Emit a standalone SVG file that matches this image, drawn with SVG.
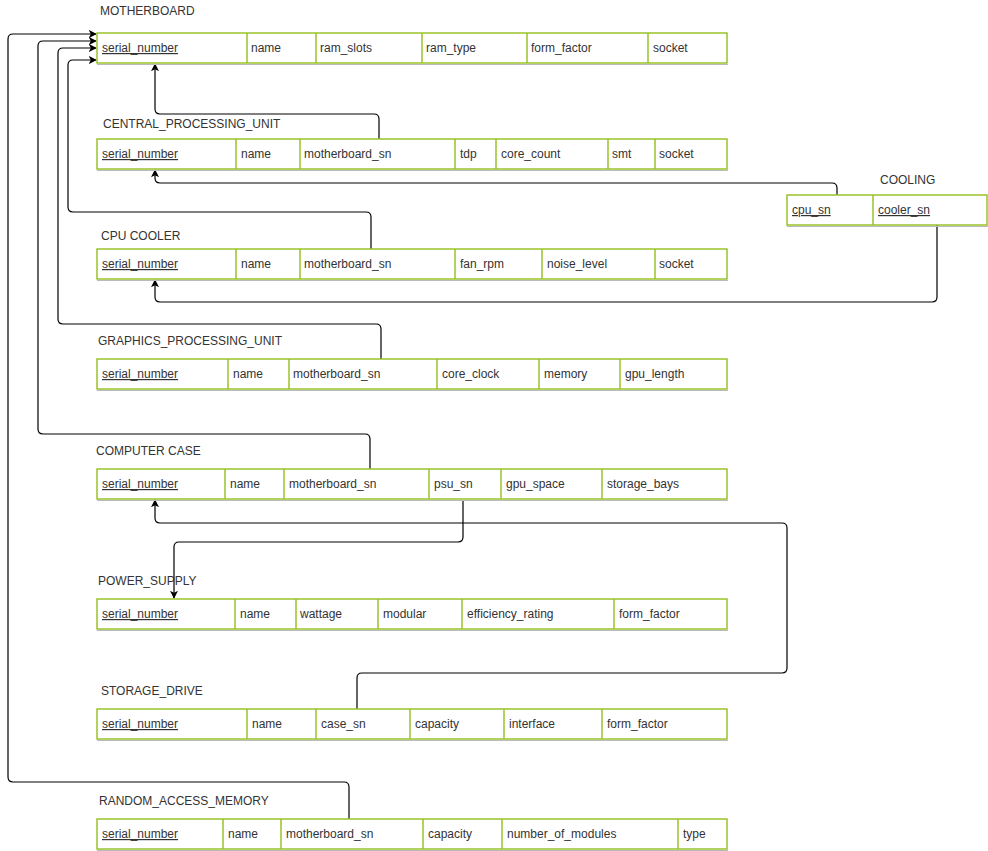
<svg xmlns="http://www.w3.org/2000/svg" width="988" height="851" viewBox="0 0 988 851">
<style>
text{font-family:"Liberation Sans",Arial,sans-serif;font-size:12px;fill:#333}
.pk{text-decoration:underline}
.tb{fill:#fff;stroke:#9AC22B;stroke-width:1.5}
.sh{fill:none;stroke:#bbb;stroke-width:1}
.dv{stroke:#9AC22B;stroke-width:1.5}
.cn{fill:none;stroke:#000;stroke-width:1.2}
</style>
<defs>
<marker id="ar" viewBox="0 0 10 10" refX="9" refY="5" markerWidth="8" markerHeight="8" markerUnits="userSpaceOnUse" orient="auto">
<path d="M0,0 L10,5 L0,10 L2.5,5 z" fill="#000"/>
</marker>
</defs>
<rect width="988" height="851" fill="#fff"/>

<g id="connectors">
<path class="cn" marker-end="url(#ar)" d="M379,139 V119 Q379,114 374,114 H160 Q155,114 155,109 V64"/>
<path class="cn" marker-end="url(#ar)" d="M837,195 V188 Q837,183 832,183 H160 Q155,183 155,178 V170"/>
<path class="cn" marker-end="url(#ar)" d="M937,225 V297 Q937,302 932,302 H160 Q155,302 155,297 V280"/>
<path class="cn" marker-end="url(#ar)" d="M371,249 V217 Q371,212 366,212 H73 Q68,212 68,207 V65 Q68,60 73,60 H96"/>
<path class="cn" marker-end="url(#ar)" d="M381,359 V329 Q381,324 376,324 H63 Q58,324 58,319 V53 Q58,48 63,48 H96"/>
<path class="cn" marker-end="url(#ar)" d="M370,469 V439 Q370,434 365,434 H43 Q38,434 38,429 V46 Q38,41 43,41 H96"/>
<path class="cn" marker-end="url(#ar)" d="M349,819 V787 Q349,782 344,782 H13 Q8,782 8,777 V39 Q8,34 13,34 H96"/>
<path class="cn" marker-end="url(#ar)" d="M463,500 V537 Q463,542 458,542 H179 Q174,542 174,547 V598"/>
<path class="cn" marker-end="url(#ar)" d="M357,709 V678 Q357,673 362,673 H782 Q787,673 787,668 V528 Q787,523 782,523 H160 Q155,523 155,518 V500"/>
</g>

<g id="motherboard">
<text x="100" y="15">MOTHERBOARD</text>
<line class="sh" x1="97" y1="64.5" x2="728" y2="64.5"/>
<rect class="tb" x="97" y="33" width="630" height="30"/>
<path class="dv" d="M247,33V63M316,33V63M422,33V63M527,33V63M648,33V63"/>
<text class="pk" x="102" y="52">serial_number</text>
<text x="251" y="52">name</text>
<text x="320" y="52">ram_slots</text>
<text x="426" y="52">ram_type</text>
<text x="531" y="52">form_factor</text>
<text x="653" y="52">socket</text>
</g>

<g id="cpu">
<text x="103" y="128">CENTRAL_PROCESSING_UNIT</text>
<line class="sh" x1="97" y1="170.5" x2="728" y2="170.5"/>
<rect class="tb" x="97" y="139" width="630" height="30"/>
<path class="dv" d="M236,139V169M300,139V169M455,139V169M496,139V169M608,139V169M655,139V169"/>
<text class="pk" x="102" y="158">serial_number</text>
<text x="241" y="158">name</text>
<text x="304" y="158">motherboard_sn</text>
<text x="460" y="158">tdp</text>
<text x="501" y="158">core_count</text>
<text x="612" y="158">smt</text>
<text x="659" y="158">socket</text>
</g>

<g id="cooling">
<text x="880" y="184">COOLING</text>
<line class="sh" x1="787" y1="226.5" x2="988" y2="226.5"/>
<rect class="tb" x="787" y="195" width="200" height="30"/>
<path class="dv" d="M873,195V225"/>
<text class="pk" x="792" y="214">cpu_sn</text>
<text class="pk" x="878" y="214">cooler_sn</text>
</g>

<g id="cpu-cooler">
<text x="101" y="240">CPU COOLER</text>
<line class="sh" x1="97" y1="280.5" x2="728" y2="280.5"/>
<rect class="tb" x="97" y="249" width="630" height="30"/>
<path class="dv" d="M236,249V279M300,249V279M455,249V279M542,249V279M655,249V279"/>
<text class="pk" x="102" y="268">serial_number</text>
<text x="241" y="268">name</text>
<text x="304" y="268">motherboard_sn</text>
<text x="460" y="268">fan_rpm</text>
<text x="547" y="268">noise_level</text>
<text x="659" y="268">socket</text>
</g>

<g id="gpu">
<text x="98" y="345">GRAPHICS_PROCESSING_UNIT</text>
<line class="sh" x1="97" y1="390.5" x2="728" y2="390.5"/>
<rect class="tb" x="97" y="359" width="630" height="30"/>
<path class="dv" d="M228,359V389M289,359V389M437,359V389M539,359V389M620,359V389"/>
<text class="pk" x="102" y="378">serial_number</text>
<text x="233" y="378">name</text>
<text x="293" y="378">motherboard_sn</text>
<text x="442" y="378">core_clock</text>
<text x="544" y="378">memory</text>
<text x="625" y="378">gpu_length</text>
</g>

<g id="computer-case">
<text x="96" y="455">COMPUTER CASE</text>
<line class="sh" x1="97" y1="500.5" x2="728" y2="500.5"/>
<rect class="tb" x="97" y="469" width="630" height="30"/>
<path class="dv" d="M225,469V499M284,469V499M429,469V499M501,469V499M602,469V499"/>
<text class="pk" x="102" y="488">serial_number</text>
<text x="230" y="488">name</text>
<text x="289" y="488">motherboard_sn</text>
<text x="434" y="488">psu_sn</text>
<text x="506" y="488">gpu_space</text>
<text x="607" y="488">storage_bays</text>
</g>

<g id="power-supply">
<text x="98" y="585">POWER_SUPPLY</text>
<line class="sh" x1="97" y1="630.5" x2="728" y2="630.5"/>
<rect class="tb" x="97" y="599" width="630" height="30"/>
<path class="dv" d="M235,599V629M296,599V629M378,599V629M462,599V629M614,599V629"/>
<text class="pk" x="102" y="618">serial_number</text>
<text x="240" y="618">name</text>
<text x="300" y="618">wattage</text>
<text x="383" y="618">modular</text>
<text x="467" y="618">efficiency_rating</text>
<text x="619" y="618">form_factor</text>
</g>

<g id="storage-drive">
<text x="101" y="695">STORAGE_DRIVE</text>
<line class="sh" x1="97" y1="740.5" x2="728" y2="740.5"/>
<rect class="tb" x="97" y="709" width="630" height="30"/>
<path class="dv" d="M247,709V739M316,709V739M410,709V739M504,709V739M602,709V739"/>
<text class="pk" x="102" y="728">serial_number</text>
<text x="252" y="728">name</text>
<text x="321" y="728">case_sn</text>
<text x="415" y="728">capacity</text>
<text x="509" y="728">interface</text>
<text x="607" y="728">form_factor</text>
</g>

<g id="ram">
<text x="99" y="805">RANDOM_ACCESS_MEMORY</text>
<line class="sh" x1="97" y1="850.5" x2="728" y2="850.5"/>
<rect class="tb" x="97" y="819" width="630" height="30"/>
<path class="dv" d="M223,819V849M281,819V849M423,819V849M502,819V849M678,819V849"/>
<text class="pk" x="102" y="838">serial_number</text>
<text x="228" y="838">name</text>
<text x="286" y="838">motherboard_sn</text>
<text x="428" y="838">capacity</text>
<text x="507" y="838">number_of_modules</text>
<text x="683" y="838">type</text>
</g>
</svg>
